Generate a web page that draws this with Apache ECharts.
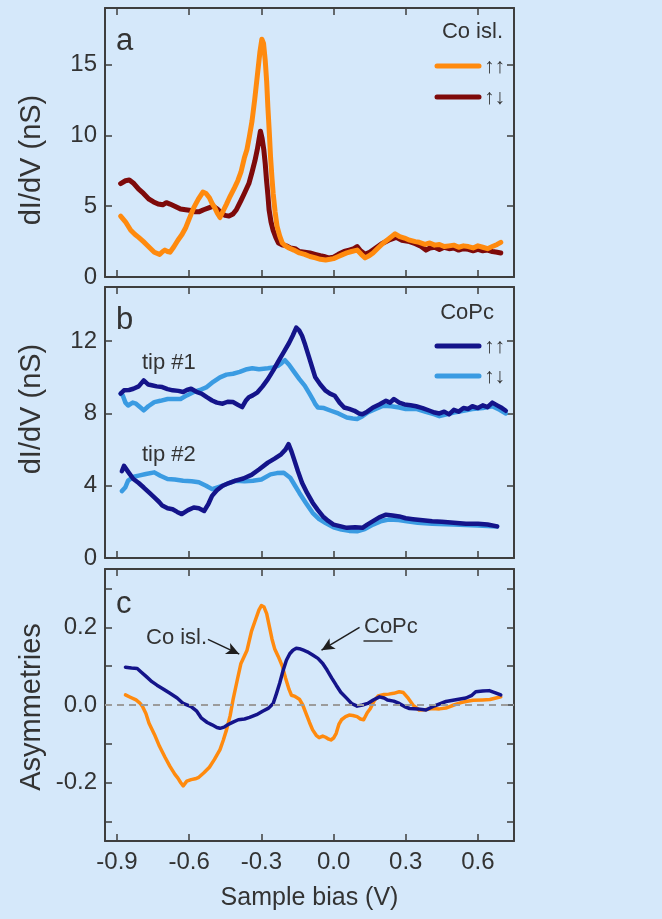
<!DOCTYPE html>
<html><head><meta charset="utf-8">
<script src="https://cdn.jsdelivr.net/npm/echarts@6/dist/echarts.min.js"></script>
<style>html,body{margin:0;padding:0;background:#d5e8fa;} #c{width:662px;height:919px;}</style>
</head><body><div id="c"></div>
<script>
// ---- tick values ----
const xTicks = [-0.9, -0.6, -0.3, 0, 0.3, 0.6];
const yTicksA = [0, 5, 10, 15];
const yTicksB = [0, 4, 8, 12];
const yTicksC = [-0.3, -0.2, -0.1, 0, 0.1, 0.2, 0.3];
const yLabelsC = [-0.2, 0, 0.2];

// ---- panel a: Co island, dI/dV (nS) ----
const coUpUp = [[-0.885,4.3],[-0.865,3.9],[-0.843,3.3],[-0.825,3.0],[-0.81,2.8],[-0.79,2.5],[-0.778,2.3],[-0.76,2.0],[-0.745,1.75],[-0.723,1.6],[-0.71,1.8],[-0.701,1.9],[-0.69,1.8],[-0.68,1.75],[-0.665,2.1],[-0.647,2.6],[-0.63,3.0],[-0.614,3.5],[-0.6,4.1],[-0.581,4.9],[-0.562,5.5],[-0.543,6.0],[-0.53,5.9],[-0.516,5.6],[-0.505,5.2],[-0.494,4.9],[-0.483,4.5],[-0.472,4.2],[-0.458,4.7],[-0.445,5.15],[-0.43,5.7],[-0.412,6.3],[-0.398,6.8],[-0.385,7.4],[-0.371,8.4],[-0.36,9.0],[-0.35,9.9],[-0.339,11.0],[-0.328,12.5],[-0.317,14.2],[-0.306,15.9],[-0.298,16.8],[-0.291,16.5],[-0.284,15.3],[-0.278,13.8],[-0.273,12.0],[-0.267,10.2],[-0.262,8.5],[-0.256,7.0],[-0.251,5.9],[-0.243,4.6],[-0.235,3.6],[-0.224,2.9],[-0.213,2.4],[-0.2,2.2],[-0.185,2.05],[-0.165,1.9],[-0.142,1.7],[-0.12,1.6],[-0.098,1.45],[-0.075,1.35],[-0.055,1.25],[-0.033,1.2],[-0.015,1.25],[0,1.3],[0.02,1.45],[0.04,1.6],[0.055,1.7],[0.075,1.8],[0.098,1.9],[0.115,1.6],[0.131,1.35],[0.148,1.5],[0.164,1.7],[0.185,2.05],[0.207,2.4],[0.23,2.7],[0.256,3.05],[0.275,2.85],[0.295,2.75],[0.316,2.6],[0.34,2.5],[0.356,2.45],[0.38,2.3],[0.4,2.4],[0.42,2.25],[0.44,2.3],[0.46,2.15],[0.48,2.2],[0.5,2.25],[0.52,2.1],[0.54,2.2],[0.56,2.15],[0.58,2.05],[0.6,2.2],[0.62,2.1],[0.64,2.0],[0.66,2.15],[0.68,2.3],[0.695,2.45]];
const coUpDown = [[-0.885,6.6],[-0.865,6.8],[-0.849,6.85],[-0.83,6.6],[-0.81,6.2],[-0.79,5.9],[-0.767,5.5],[-0.748,5.3],[-0.729,5.15],[-0.71,5.1],[-0.695,5.25],[-0.68,5.15],[-0.66,5.0],[-0.636,4.8],[-0.615,4.75],[-0.592,4.7],[-0.575,4.6],[-0.56,4.6],[-0.54,4.75],[-0.516,4.9],[-0.5,5.0],[-0.483,4.8],[-0.466,4.5],[-0.451,4.35],[-0.435,4.3],[-0.418,4.45],[-0.404,4.75],[-0.385,5.4],[-0.371,5.9],[-0.352,6.6],[-0.339,7.4],[-0.327,8.2],[-0.317,9.0],[-0.31,9.7],[-0.304,10.3],[-0.297,9.8],[-0.29,9.0],[-0.284,8.0],[-0.279,6.9],[-0.273,5.8],[-0.268,4.75],[-0.26,3.9],[-0.251,3.3],[-0.24,2.8],[-0.229,2.4],[-0.21,2.25],[-0.195,2.2],[-0.18,2.05],[-0.16,2.0],[-0.142,1.8],[-0.12,1.75],[-0.098,1.7],[-0.077,1.6],[-0.055,1.5],[-0.04,1.45],[-0.022,1.35],[0,1.4],[0.02,1.6],[0.044,1.8],[0.065,1.9],[0.085,2.0],[0.098,2.15],[0.112,1.85],[0.131,1.6],[0.15,1.75],[0.175,2.05],[0.2,2.35],[0.229,2.6],[0.26,2.8],[0.284,2.6],[0.316,2.5],[0.34,2.35],[0.36,2.2],[0.384,1.9],[0.4,2.05],[0.42,2.1],[0.44,1.95],[0.46,2.1],[0.48,2.0],[0.5,2.05],[0.52,1.9],[0.54,2.0],[0.56,1.95],[0.58,1.85],[0.6,1.95],[0.62,1.85],[0.64,1.9],[0.66,1.8],[0.68,1.75],[0.695,1.7]];

// ---- panel b: CoPc, two tips ----
const tip1UpUp = [[-0.885,9.1],[-0.871,9.28],[-0.85,9.3],[-0.832,9.37],[-0.81,9.5],[-0.789,9.83],[-0.77,9.6],[-0.756,9.56],[-0.735,9.5],[-0.712,9.46],[-0.69,9.35],[-0.669,9.28],[-0.645,9.25],[-0.625,9.19],[-0.61,9.3],[-0.592,9.37],[-0.57,9.2],[-0.549,9.1],[-0.527,8.9],[-0.505,8.72],[-0.485,8.6],[-0.461,8.54],[-0.44,8.65],[-0.418,8.63],[-0.4,8.5],[-0.38,8.35],[-0.365,8.7],[-0.352,8.9],[-0.336,9.0],[-0.316,9.17],[-0.295,9.5],[-0.273,9.9],[-0.25,10.4],[-0.229,10.9],[-0.207,11.4],[-0.185,11.9],[-0.17,12.3],[-0.155,12.75],[-0.143,12.6],[-0.131,12.3],[-0.118,11.8],[-0.104,11.2],[-0.09,10.6],[-0.076,10.0],[-0.055,9.6],[-0.033,9.26],[-0.015,9.1],[0.005,8.98],[0.025,8.6],[0.044,8.33],[0.065,8.25],[0.087,8.15],[0.105,8.0],[0.12,7.96],[0.14,8.1],[0.164,8.33],[0.19,8.5],[0.218,8.7],[0.235,8.6],[0.251,8.8],[0.273,8.6],[0.295,8.5],[0.32,8.45],[0.343,8.4],[0.37,8.3],[0.4,8.15],[0.42,8.05],[0.44,8.0],[0.46,8.1],[0.48,7.95],[0.5,8.2],[0.52,8.1],[0.54,8.3],[0.56,8.25],[0.577,8.4],[0.6,8.3],[0.62,8.45],[0.64,8.35],[0.66,8.6],[0.68,8.45],[0.7,8.3],[0.716,8.15]];
const tip1UpDown = [[-0.885,9.1],[-0.876,9.0],[-0.865,8.6],[-0.854,8.44],[-0.835,8.6],[-0.821,8.54],[-0.8,8.3],[-0.789,8.17],[-0.77,8.4],[-0.745,8.63],[-0.72,8.7],[-0.69,8.8],[-0.665,8.8],[-0.636,8.8],[-0.61,9.0],[-0.581,9.19],[-0.555,9.3],[-0.527,9.46],[-0.5,9.75],[-0.472,10.0],[-0.445,10.15],[-0.418,10.2],[-0.39,10.3],[-0.36,10.45],[-0.338,10.5],[-0.31,10.45],[-0.273,10.5],[-0.25,10.55],[-0.229,10.65],[-0.215,10.8],[-0.202,10.95],[-0.185,10.7],[-0.164,10.3],[-0.142,9.9],[-0.12,9.54],[-0.1,9.1],[-0.087,8.8],[-0.075,8.5],[-0.065,8.33],[-0.04,8.3],[-0.011,8.15],[0.02,8.0],[0.055,7.78],[0.08,7.72],[0.098,7.69],[0.12,7.85],[0.142,8.06],[0.175,8.25],[0.207,8.43],[0.24,8.4],[0.273,8.33],[0.3,8.25],[0.343,8.25],[0.38,8.1],[0.42,7.95],[0.44,7.85],[0.47,7.95],[0.5,8.05],[0.54,8.15],[0.577,8.25],[0.62,8.3],[0.66,8.4],[0.69,8.2],[0.716,8.0]];
const tip2UpUp = [[-0.88,4.8],[-0.871,5.1],[-0.85,4.7],[-0.832,4.37],[-0.81,4.15],[-0.789,3.9],[-0.765,3.6],[-0.745,3.35],[-0.725,3.1],[-0.712,2.9],[-0.69,2.75],[-0.669,2.7],[-0.65,2.55],[-0.631,2.43],[-0.605,2.65],[-0.581,2.8],[-0.56,2.75],[-0.538,2.6],[-0.52,3.0],[-0.505,3.44],[-0.485,3.75],[-0.461,4.0],[-0.435,4.15],[-0.407,4.28],[-0.375,4.4],[-0.341,4.6],[-0.31,4.9],[-0.273,5.28],[-0.245,5.5],[-0.218,5.74],[-0.2,6.0],[-0.187,6.3],[-0.175,5.9],[-0.164,5.46],[-0.148,4.8],[-0.131,4.17],[-0.11,3.6],[-0.087,3.06],[-0.065,2.65],[-0.044,2.3],[-0.022,2.05],[0,1.85],[0.03,1.75],[0.055,1.67],[0.09,1.7],[0.12,1.67],[0.14,1.85],[0.164,2.04],[0.19,2.25],[0.218,2.4],[0.245,2.35],[0.273,2.3],[0.3,2.2],[0.33,2.15],[0.36,2.1],[0.41,2.03],[0.45,2.0],[0.5,1.95],[0.55,1.9],[0.6,1.9],[0.64,1.85],[0.68,1.75]];
const tip2UpDown = [[-0.88,3.7],[-0.866,3.9],[-0.854,4.28],[-0.83,4.5],[-0.81,4.56],[-0.78,4.65],[-0.745,4.74],[-0.72,4.55],[-0.69,4.37],[-0.66,4.35],[-0.625,4.28],[-0.59,4.25],[-0.56,4.19],[-0.53,4.0],[-0.505,3.81],[-0.485,3.9],[-0.461,4.0],[-0.435,4.15],[-0.407,4.28],[-0.37,4.25],[-0.335,4.28],[-0.3,4.35],[-0.262,4.63],[-0.235,4.7],[-0.207,4.72],[-0.18,4.44],[-0.16,4.0],[-0.142,3.6],[-0.115,3.05],[-0.087,2.5],[-0.06,2.15],[-0.033,1.94],[0,1.7],[0.033,1.57],[0.065,1.5],[0.098,1.48],[0.13,1.6],[0.164,1.85],[0.2,2.05],[0.229,2.13],[0.27,2.1],[0.305,2.04],[0.35,1.95],[0.41,1.9],[0.5,1.85],[0.6,1.8],[0.68,1.75]];

// ---- panel c: asymmetries ----
const asymCoIsl = [[-0.865,0.026],[-0.845,0.02],[-0.821,0.013],[-0.805,0.005],[-0.794,-0.004],[-0.78,-0.022],[-0.767,-0.047],[-0.745,-0.075],[-0.723,-0.107],[-0.7,-0.135],[-0.68,-0.158],[-0.66,-0.178],[-0.647,-0.188],[-0.635,-0.2],[-0.625,-0.208],[-0.61,-0.196],[-0.592,-0.192],[-0.575,-0.19],[-0.56,-0.186],[-0.54,-0.175],[-0.516,-0.16],[-0.495,-0.14],[-0.472,-0.115],[-0.458,-0.09],[-0.445,-0.064],[-0.43,-0.028],[-0.418,0.013],[-0.4,0.065],[-0.385,0.107],[-0.36,0.14],[-0.341,0.19],[-0.327,0.215],[-0.31,0.245],[-0.3,0.256],[-0.289,0.252],[-0.278,0.235],[-0.266,0.2],[-0.256,0.17],[-0.245,0.145],[-0.23,0.125],[-0.213,0.1],[-0.2,0.07],[-0.185,0.04],[-0.175,0.025],[-0.16,0.022],[-0.142,0.015],[-0.128,0.0],[-0.115,-0.021],[-0.1,-0.045],[-0.087,-0.064],[-0.072,-0.078],[-0.06,-0.084],[-0.045,-0.08],[-0.033,-0.083],[-0.02,-0.088],[-0.011,-0.09],[0.0,-0.085],[0.011,-0.073],[0.022,-0.05],[0.033,-0.038],[0.05,-0.03],[0.065,-0.026],[0.08,-0.027],[0.098,-0.03],[0.112,-0.036],[0.125,-0.038],[0.14,-0.02],[0.153,-0.009],[0.17,0.012],[0.185,0.023],[0.21,0.027],[0.229,0.028],[0.25,0.03],[0.273,0.034],[0.29,0.032],[0.311,0.017],[0.33,0.0],[0.356,-0.013],[0.38,-0.012],[0.41,-0.009],[0.44,-0.01],[0.467,-0.008],[0.5,0.0],[0.53,0.006],[0.55,0.009],[0.58,0.012],[0.619,0.013],[0.65,0.014],[0.675,0.018],[0.695,0.021]];
const asymCoPc = [[-0.865,0.097],[-0.84,0.095],[-0.816,0.094],[-0.8,0.085],[-0.778,0.073],[-0.755,0.06],[-0.734,0.051],[-0.71,0.042],[-0.68,0.03],[-0.65,0.018],[-0.625,0.004],[-0.592,-0.004],[-0.57,-0.015],[-0.549,-0.034],[-0.525,-0.045],[-0.505,-0.051],[-0.485,-0.058],[-0.472,-0.06],[-0.455,-0.057],[-0.44,-0.051],[-0.418,-0.044],[-0.396,-0.038],[-0.37,-0.036],[-0.349,-0.032],[-0.32,-0.025],[-0.295,-0.016],[-0.27,-0.008],[-0.251,0.004],[-0.237,0.03],[-0.224,0.056],[-0.21,0.088],[-0.196,0.115],[-0.182,0.132],[-0.169,0.141],[-0.155,0.146],[-0.142,0.145],[-0.125,0.141],[-0.109,0.137],[-0.09,0.13],[-0.065,0.12],[-0.045,0.107],[-0.027,0.09],[-0.008,0.07],[0.011,0.051],[0.03,0.033],[0.055,0.017],[0.075,0.004],[0.098,-0.003],[0.12,0.0],[0.142,0.004],[0.165,0.013],[0.191,0.021],[0.21,0.018],[0.224,0.013],[0.25,0.01],[0.273,0.004],[0.295,-0.004],[0.316,-0.009],[0.35,-0.01],[0.384,-0.013],[0.42,-0.002],[0.467,0.009],[0.52,0.015],[0.55,0.018],[0.575,0.025],[0.591,0.034],[0.62,0.036],[0.647,0.037],[0.67,0.032],[0.695,0.026]];

const FONT = '"Liberation Sans", Arial, sans-serif';
const TXT = '#333333';
const FRAME = '#3e3e3e';
const C_ORANGE = '#ff8a0e', C_DRED = '#7e0a0a', C_NAVY = '#14148a', C_LBLUE = '#3a9be2';

const grids = [
  {left:105, top:8, width:409, height:269},
  {left:105, top:287, width:409, height:271},
  {left:105, top:569, width:409, height:272}
];

function xAx(gi, pos, labels) {
  const a = {type:'value', gridIndex:gi, position:pos, min:-0.95, max:0.75,
    axisLine:{show:true, onZero:false, lineStyle:{color:FRAME, width:2}},
    axisTick:{show:true, inside:true, length:7, customValues:xTicks, lineStyle:{color:FRAME, width:1.5}},
    axisLabel:{show:labels, customValues:xTicks, formatter:v=>v.toFixed(1), fontSize:24, color:TXT, fontFamily:FONT, margin:9},
    splitLine:{show:false}};
  if (labels) {
    a.name = 'Sample bias (V)'; a.nameLocation = 'middle'; a.nameGap = 45;
    a.nameTextStyle = {fontSize:25, color:TXT, fontFamily:FONT};
  }
  return a;
}
function yAx(gi, pos, min, max, ticks, labels, fmt) {
  return {type:'value', gridIndex:gi, position:pos, min:min, max:max,
    axisLine:{show:true, onZero:false, lineStyle:{color:FRAME, width:2}},
    axisTick:{show:true, inside:true, length:7, customValues:ticks, lineStyle:{color:FRAME, width:1.5}},
    axisLabel:{show:!!labels, customValues:labels || ticks, formatter:fmt, fontSize:24, color:TXT, fontFamily:FONT, margin:8},
    splitLine:{show:false}};
}
const intFmt = v => String(Math.round(v));
const oneFmt = v => v.toFixed(1);

function line(name, data, xi, yi, color, width) {
  return {name, type:'line', data, xAxisIndex:xi, yAxisIndex:yi, showSymbol:false, smooth:false,
    lineStyle:{color, width, cap:'round', join:'round'}, itemStyle:{color}, animation:false, silent:true};
}

const series = [
  line('↑↓', coUpDown, 0, 0, C_DRED, 5),
  line('↑↑', coUpUp, 0, 0, C_ORANGE, 5),
  line('tip1 ↑↓', tip1UpDown, 2, 2, C_LBLUE, 4.5),
  line('tip1 ↑↑', tip1UpUp, 2, 2, C_NAVY, 4.5),
  line('tip2 ↑↓', tip2UpDown, 2, 2, C_LBLUE, 4.5),
  line('tip2 ↑↑', tip2UpUp, 2, 2, C_NAVY, 4.5),
  line('Co isl.', asymCoIsl, 4, 4, C_ORANGE, 3.5),
  line('CoPc', asymCoPc, 4, 4, C_NAVY, 3.5)
];
series[6].markLine = {silent:true, symbol:'none', animation:false, label:{show:false},
  lineStyle:{type:[7,5], color:'#9c9c9c', width:2}, data:[{yAxis:0}]};
series[6].z = 1;
series[7].markLine = {silent:true, animation:false, label:{show:false}, symbolSize:[9,13],
  lineStyle:{type:'solid', color:'#1e1e1e', width:1.5},
  data:[
    [{coord:[-0.522,0.169], symbol:'none'}, {coord:[-0.392,0.131], symbol:'arrow'}],
    [{coord:[0.108,0.2], symbol:'none'}, {coord:[-0.05,0.141], symbol:'arrow'}]
  ]};

function txt(x, y, s, size, align, rot) {
  return {type:'text', x, y, rotation:rot||0, style:{text:s, fontSize:size, fill:TXT, fontFamily:FONT,
    textAlign:align||'left', textVerticalAlign:'middle'}, silent:true, z:50};
}
function seg(x1, y1, x2, y2, color, w) {
  return {type:'line', shape:{x1,y1,x2,y2}, style:{stroke:color, lineWidth:w, lineCap:'round'}, silent:true, z:50};
}

const graphic = [
  txt(32, 160, 'dI/dV (nS)', 29, 'center', Math.PI/2),
  txt(32, 409, 'dI/dV (nS)', 29, 'center', Math.PI/2),
  txt(32, 707, 'Asymmetries', 29, 'center', Math.PI/2),
  txt(116, 41, 'a', 31), txt(116, 320, 'b', 31), txt(116, 604, 'c', 31),
  txt(503, 32, 'Co isl.', 22, 'right'),
  seg(437, 66, 479, 66, C_ORANGE, 5), txt(484, 67, '↑↑', 21),
  seg(437, 97, 479, 97, C_DRED, 5), txt(484, 98, '↑↓', 21),
  txt(494, 313, 'CoPc', 22, 'right'),
  seg(437, 346, 479, 346, C_NAVY, 5), txt(484, 347, '↑↑', 21),
  seg(437, 376, 479, 376, C_LBLUE, 5), txt(484, 377, '↑↓', 21),
  txt(142, 363, 'tip #1', 22), txt(142, 455, 'tip #2', 22),
  txt(146, 638, 'Co isl.', 22),
  txt(364, 627, 'CoPc', 22),
  seg(364, 641, 392, 641, '#333', 1.5)
];

const chart = echarts.init(document.getElementById('c'), null, {renderer:'canvas'});
chart.setOption({
  backgroundColor:'#d5e8fa',
  animation:false,
  grid: grids,
  xAxis: [xAx(0,'bottom',false), xAx(0,'top',false), xAx(1,'bottom',false), xAx(1,'top',false), xAx(2,'bottom',true), xAx(2,'top',false)],
  yAxis: [
    yAx(0,'left',0,19,yTicksA,yTicksA,intFmt), yAx(0,'right',0,19,yTicksA,null,intFmt),
    yAx(1,'left',0,15,yTicksB,yTicksB,intFmt), yAx(1,'right',0,15,yTicksB,null,intFmt),
    yAx(2,'left',-0.35,0.35,yTicksC,yLabelsC,oneFmt), yAx(2,'right',-0.35,0.35,yTicksC,null,oneFmt)
  ],
  series,
  graphic
});
</script></body></html>
